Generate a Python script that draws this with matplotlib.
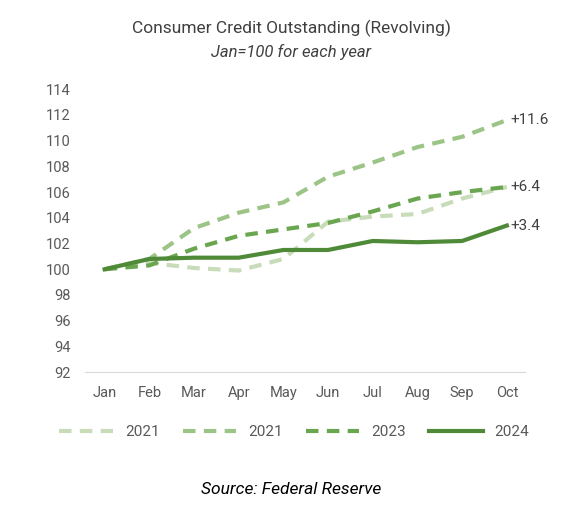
import matplotlib
matplotlib.use("Agg")
import matplotlib.pyplot as plt

plt.rcParams["font.family"] = ["Roboto", "DejaVu Sans"]

months = ["Jan", "Feb", "Mar", "Apr", "May", "Jun", "Jul", "Aug", "Sep", "Oct"]
s2021a = [100, 100.5, 100.1, 99.9, 100.8, 103.7, 104.1, 104.3, 105.5, 106.4]
s2021b = [100, 100.8, 103.2, 104.4, 105.2, 107.2, 108.3, 109.5, 110.3, 111.6]
s2023 = [100, 100.3, 101.6, 102.6, 103.1, 103.6, 104.5, 105.5, 106.0, 106.4]
s2024 = [100, 100.8, 100.9, 100.9, 101.5, 101.5, 102.2, 102.1, 102.2, 103.4]
end_labels = {"+11.6": s2021b[-1], "+6.4": s2023[-1], "+3.4": s2024[-1]}

fig = plt.figure(figsize=(5.83, 5.07), dpi=100)
ax = fig.add_axes([0.145, 0.266, 0.755, 0.558])
x = range(len(months))

ax.plot(x, s2021a, color="#c9dcba", lw=3, ls=(0, (3, 2)), label="2021")
ax.plot(x, s2021b, color="#9dc487", lw=3, ls=(0, (3, 2)), label="2021")
ax.plot(x, s2023, color="#6aa64f", lw=3, ls=(0, (3, 2)), label="2023")
ax.plot(x, s2024, color="#4f8a38", lw=3, label="2024")

for txt, val in end_labels.items():
    ax.text(len(months) - 1 + 0.07, val, txt, va="center", ha="left", fontsize=11, color="#404040")

ax.set_ylim(92, 114)
ax.set_yticks(range(92, 115, 2))
ax.set_xlim(-0.45, len(months) - 0.6)
ax.set_xticks(list(x))
ax.set_xticklabels(months)
ax.tick_params(length=0, labelsize=10.5, colors="#595959", pad=10)
for sp in ax.spines.values():
    sp.set_visible(False)
ax.spines["bottom"].set_visible(True)
ax.spines["bottom"].set_color("#d9d9d9")

fig.text(0.5, 0.935, "Consumer Credit Outstanding (Revolving)", ha="center", fontsize=12.5, color="#404040")
fig.text(0.5, 0.888, "Jan=100 for each year", ha="center", fontsize=12, style="italic", color="#404040")
fig.legend(loc="center", bbox_to_anchor=(0.505, 0.148), ncol=4, frameon=False, fontsize=11,
           handlelength=3.5, columnspacing=1.5, labelcolor="#595959")
fig.text(0.5, 0.025, "Source: Federal Reserve", ha="center", fontsize=12.5, style="italic", color="black")

fig.savefig("out.png", dpi=100)
